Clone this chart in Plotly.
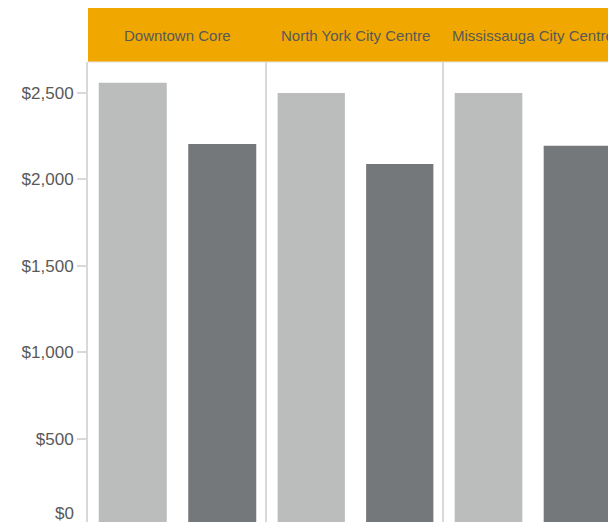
import plotly.graph_objects as go
from plotly.subplots import make_subplots

# ---- data ----
regions = ["Downtown Core", "North York City Centre", "Mississauga City Centre"]
series_names = ["Series A", "Series B"]
series_a = [2560, 2500, 2500]
series_b = [2205, 2090, 2195]
y_ticks = [0, 500, 1000, 1500, 2000, 2500]
y_tick_labels = ["$" + format(v, ",") for v in y_ticks]

# ---- style ----
LIGHT = "#BBBDBC"
DARK = "#75787B"
ORANGE = "#F0A800"
LINE = "#D9D9D9"
TEXT = "#595959"
FONT = "Liberation Sans, Arial, sans-serif"

W, H = 608, 522
L, T = 88, 62
plot_w = W - L
plot_h = H - T

# panel pixel boundaries
edges_px = [88, 267, 444, 608]
domains = [[(edges_px[i] - L) / plot_w, (edges_px[i + 1] - L) / plot_w] for i in range(3)]
full_panel = 178.0

fig = make_subplots(rows=1, cols=3, shared_yaxes=True, horizontal_spacing=0)

for i, reg in enumerate(regions):
    fig.add_trace(
        go.Bar(
            x=series_names,
            y=[series_a[i], series_b[i]],
            marker=dict(color=[LIGHT, DARK], line=dict(width=0)),
            width=0.76,
            showlegend=False,
            hoverinfo="skip",
        ),
        row=1, col=i + 1,
    )

yrange = [17.4, 2680]

for i in range(3):
    n = "" if i == 0 else str(i + 1)
    pw = edges_px[i + 1] - edges_px[i]
    rng_hi = -0.5 + 2 * pw / full_panel if i == 2 else 1.5
    fig.layout["xaxis" + n].update(
        domain=domains[i], range=[-0.5, rng_hi], showticklabels=False,
        showline=False, showgrid=False, zeroline=False, ticks="",
        type="category", fixedrange=True,
    )
    fig.layout["yaxis" + n].update(
        range=yrange, showgrid=False, zeroline=False,
        showline=True, linecolor=LINE, linewidth=2,
        fixedrange=True,
    )

fig.update_yaxes(
    tickmode="array", tickvals=y_ticks, ticktext=y_tick_labels,
    ticks="outside", ticklen=9, tickcolor=LINE, tickwidth=2,
    tickfont=dict(family=FONT, size=17, color=TEXT),
    showticklabels=True,
    row=1, col=1,
)
fig.update_yaxes(showticklabels=False, ticks="", row=1, col=2)
fig.update_yaxes(showticklabels=False, ticks="", row=1, col=3)

# header band
hdr_top = 1 + (T - 8) / plot_h
fig.add_shape(type="rect", xref="paper", yref="paper", x0=0, x1=1, y0=1, y1=hdr_top,
              fillcolor=ORANGE, line=dict(width=0), layer="above")
fig.add_shape(type="line", xref="paper", yref="paper", x0=0, x1=1, y0=1, y1=1,
              line=dict(color="#E3E3E3", width=1), layer="above")

hdr_mid = 1 + (T - 35) / plot_h
for i, reg in enumerate(regions):
    n = "" if i == 0 else str(i + 1)
    fig.add_annotation(
        text=reg, xref="x" + n, x=0.5, yref="paper", y=hdr_mid,
        xanchor="center", yanchor="middle", showarrow=False,
        font=dict(family=FONT, size=15, color=TEXT),
    )

# zero label (shifted up into view, as in the reference)
fig.add_annotation(
    text=y_tick_labels[0], xref="paper", x=0, yref="paper", y=0,
    xanchor="right", yanchor="bottom", xshift=-12, yshift=-3, showarrow=False,
    font=dict(family=FONT, size=17, color=TEXT),
)

fig.update_layout(
    width=W, height=H,
    margin=dict(l=L, r=0, t=T, b=0),
    paper_bgcolor="white", plot_bgcolor="white",
    bargap=0.24,
)

fig.write_html("out.html")
